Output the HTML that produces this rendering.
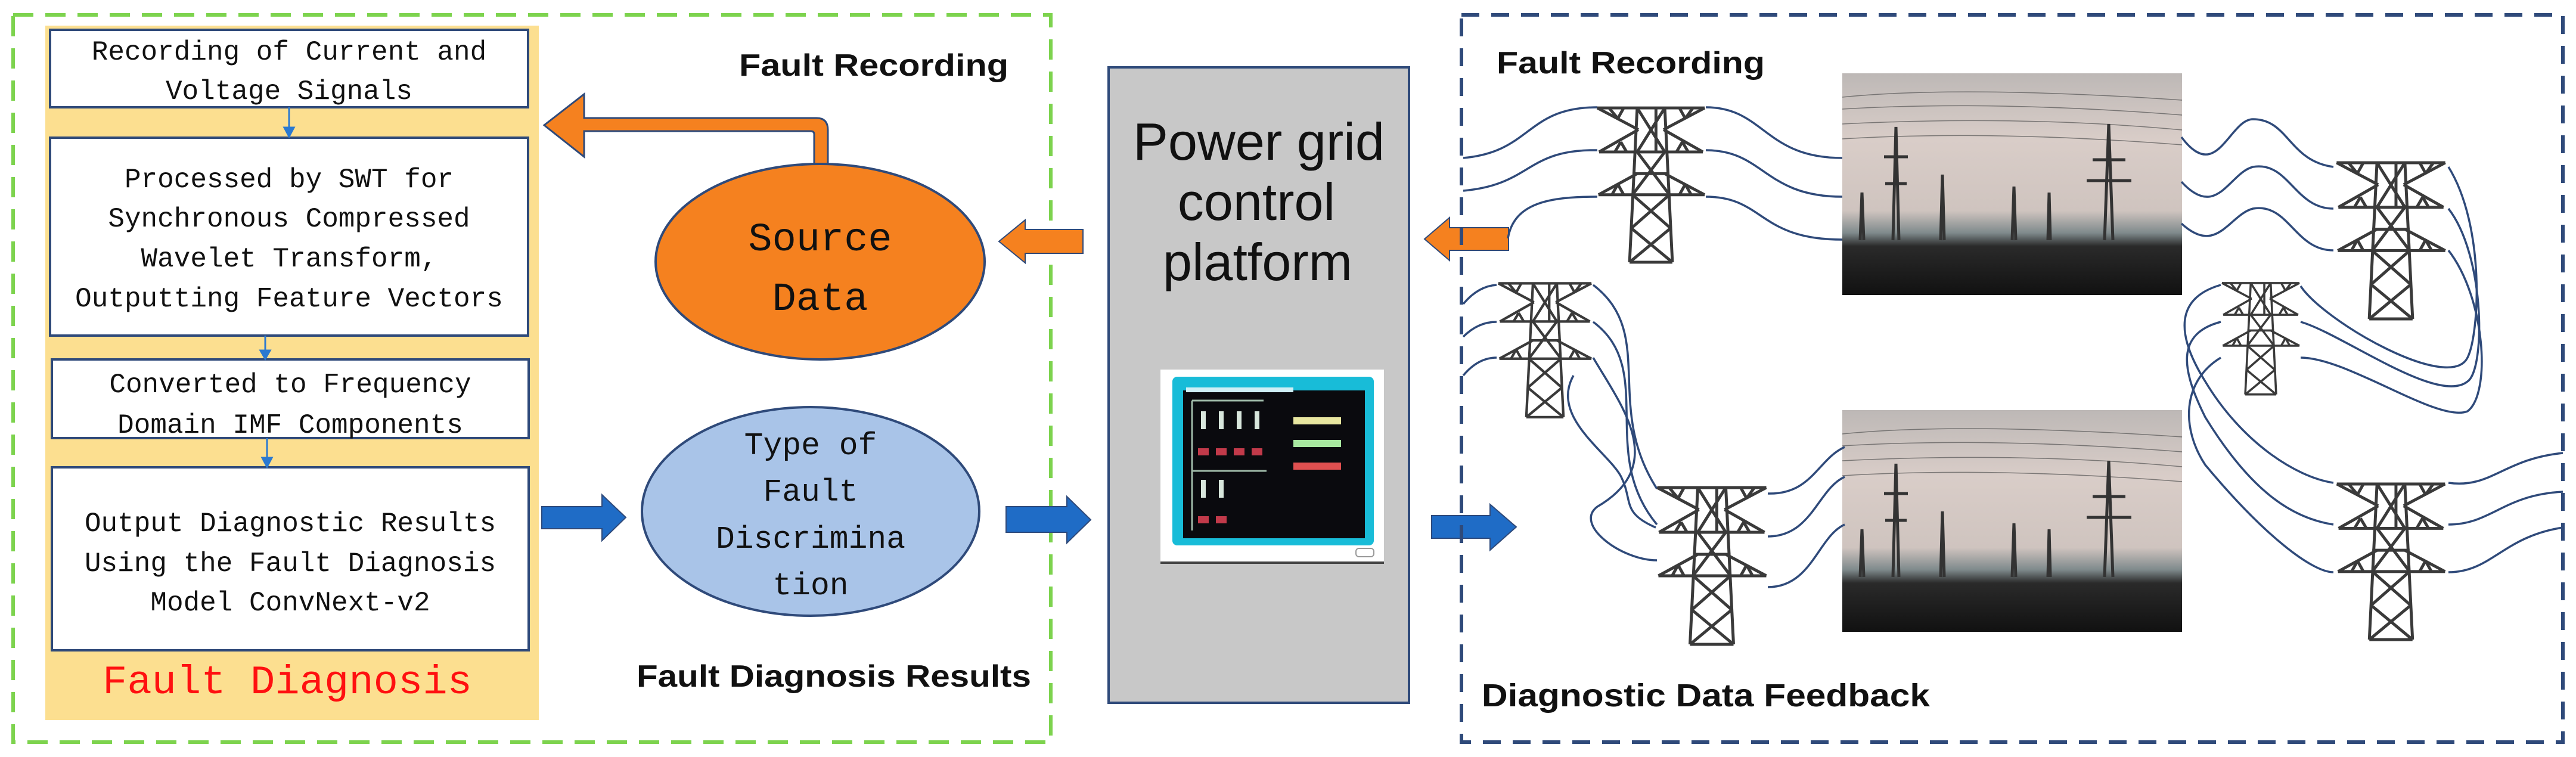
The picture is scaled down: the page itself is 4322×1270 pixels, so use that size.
<!DOCTYPE html>
<html><head><meta charset="utf-8"><style>
html,body{margin:0;padding:0;background:#fff;}
svg{display:block;}
.mono{font-family:"Liberation Mono",monospace;}
.lab{font-family:"Liberation Sans",sans-serif;font-weight:bold;}
</style></head><body>
<svg width="4322" height="1270" viewBox="0 0 4322 1270" xmlns="http://www.w3.org/2000/svg">
<defs>
<symbol id="tw" viewBox="-4 -4 191 273">
<g fill="none" stroke="#3a3a3a" stroke-width="5" stroke-linejoin="round">
<line x1="0" y1="0" x2="183" y2="0"/>
<line x1="0" y1="0" x2="70" y2="37"/><line x1="183" y1="0" x2="113" y2="37"/>
<line x1="70" y1="37" x2="3" y2="75"/><line x1="113" y1="37" x2="180" y2="75"/>
<line x1="3" y1="75" x2="180" y2="75"/>
<line x1="68" y1="0" x2="55" y2="263"/><line x1="115" y1="0" x2="128" y2="263"/>
<line x1="100" y1="0" x2="100" y2="75"/>
<line x1="68" y1="112" x2="2" y2="148"/><line x1="115" y1="112" x2="183" y2="148"/>
<line x1="2" y1="148" x2="183" y2="148"/><line x1="60" y1="112" x2="123" y2="112"/>
<line x1="55" y1="263" x2="128" y2="263"/>
<line x1="68" y1="0" x2="115" y2="75"/><line x1="115" y1="0" x2="68" y2="75"/>
<line x1="68" y1="75" x2="123" y2="148"/><line x1="115" y1="75" x2="60" y2="148"/>
<line x1="60" y1="148" x2="125" y2="205"/><line x1="123" y1="148" x2="58" y2="205"/>
<line x1="58" y1="205" x2="128" y2="263"/><line x1="125" y1="205" x2="55" y2="263"/>
<line x1="20" y1="0" x2="35" y2="18"/><line x1="45" y1="0" x2="35" y2="18"/><line x1="140" y1="0" x2="150" y2="18"/><line x1="163" y1="0" x2="150" y2="18"/>
<line x1="30" y1="75" x2="40" y2="58"/><line x1="50" y1="75" x2="40" y2="58"/><line x1="135" y1="75" x2="145" y2="58"/><line x1="155" y1="75" x2="145" y2="58"/>
<line x1="25" y1="148" x2="35" y2="130"/><line x1="45" y1="148" x2="35" y2="130"/><line x1="140" y1="148" x2="150" y2="130"/><line x1="160" y1="148" x2="150" y2="130"/>
</g>
</symbol>
<linearGradient id="ph" x1="0" y1="0" x2="0" y2="1">
<stop offset="0" stop-color="#bdb8b6"/><stop offset="0.3" stop-color="#d9cdc8"/><stop offset="0.62" stop-color="#cfc4bf"/><stop offset="0.72" stop-color="#7f8a8c"/><stop offset="0.78" stop-color="#2a2a2a"/><stop offset="1" stop-color="#111"/>
</linearGradient>
<symbol id="photo" viewBox="0 0 570 372">
<rect width="570" height="372" fill="url(#ph)"/>
<g stroke="#555" stroke-width="1.5" fill="none" opacity="0.7">
<path d="M0 40 Q200 20 570 45"/><path d="M0 60 Q250 45 570 70"/><path d="M0 85 Q300 70 570 95"/><path d="M0 110 Q250 95 570 120"/>
</g>
<g stroke="#333" stroke-width="5" fill="none">
<path d="M85 280 L90 90 L95 280"/><line x1="70" y1="140" x2="110" y2="140"/><line x1="72" y1="185" x2="108" y2="185"/>
<path d="M440 280 L447 85 L454 280"/><line x1="410" y1="180" x2="485" y2="180"/><line x1="420" y1="145" x2="475" y2="145"/>
<path d="M165 280 L168 170 L171 280"/><path d="M285 280 L288 190 L291 280"/><path d="M345 280 L347 200 L349 280"/><path d="M30 280 L33 200 L36 280"/>
</g>
</symbol>
</defs>

<!-- Left green dashed region -->
<rect x="22" y="25" width="1741" height="1220" fill="none" stroke="#7DD34E" stroke-width="6" stroke-dasharray="34 20"/>
<rect x="76" y="43" width="828" height="1165" fill="#FCDF90"/>
<g fill="#fff" stroke="#2F4A7A" stroke-width="4">
<rect x="84" y="50" width="802" height="130"/>
<rect x="84" y="231" width="802" height="332"/>
<rect x="87" y="603" width="800" height="132"/>
<rect x="87" y="784" width="800" height="307"/>
</g>
<g stroke="#2B79D0" stroke-width="3" fill="#2B79D0">
<line x1="485" y1="180" x2="485" y2="218"/><path d="M477 214 L493 214 L485 229Z"/>
<line x1="445" y1="563" x2="445" y2="590"/><path d="M437 588 L453 588 L445 602Z"/>
<line x1="448" y1="735" x2="448" y2="770"/><path d="M440 768 L456 768 L448 783Z"/>
</g>
<g class="mono" font-size="46" fill="#111" text-anchor="middle">
<text x="485" y="100">Recording of Current and</text>
<text x="485" y="166">Voltage Signals</text>
<text x="485" y="314">Processed by SWT for</text>
<text x="485" y="380">Synchronous Compressed</text>
<text x="485" y="447">Wavelet Transform,</text>
<text x="485" y="514">Outputting Feature Vectors</text>
<text x="487" y="658">Converted to Frequency</text>
<text x="487" y="726">Domain IMF Components</text>
<text x="487" y="891">Output Diagnostic Results</text>
<text x="487" y="958">Using the Fault Diagnosis</text>
<text x="487" y="1024">Model ConvNext-v2</text>
</g>
<text class="mono" x="482" y="1163" font-size="68" fill="#FF1010" text-anchor="middle" textLength="620" lengthAdjust="spacingAndGlyphs">Fault Diagnosis</text>

<text class="lab" x="1240" y="127" font-size="52" fill="#111" textLength="452" lengthAdjust="spacingAndGlyphs">Fault Recording</text>
<text class="lab" x="1068" y="1152" font-size="52" fill="#111" textLength="662" lengthAdjust="spacingAndGlyphs">Fault Diagnosis Results</text>

<!-- Orange bent arrow -->
<path d="M1366 277 L1366 225 Q1366 220 1360 220 L980 220 L980 263 L913 210 L980 158 L980 198 L1370 198 Q1389 198 1389 218 L1389 277Z" fill="#F5811F" stroke="#2F4A7A" stroke-width="3"/>
<ellipse cx="1376" cy="439" rx="276" ry="164" fill="#F5811F" stroke="#2F4A7A" stroke-width="4"/>
<g class="mono" font-size="67" fill="#111" text-anchor="middle"><text x="1376" y="420">Source</text><text x="1376" y="520">Data</text></g>

<ellipse cx="1360" cy="858" rx="283" ry="175" fill="#A9C4E8" stroke="#2F4A7A" stroke-width="4"/>
<g class="mono" font-size="53" fill="#111" text-anchor="middle"><text x="1360" y="762">Type of</text><text x="1360" y="840">Fault</text><text x="1360" y="919">Discrimina</text><text x="1360" y="997">tion</text></g>

<!-- Blue arrows -->
<path d="M909 850 L1010 850 L1010 830 L1050 868 L1010 907 L1010 887 L909 887Z" fill="#1F6CC6" stroke="#2F4A7A" stroke-width="2"/>
<path d="M1688 850 L1790 850 L1790 833 L1830 872 L1790 911 L1790 893 L1688 893Z" fill="#1F6CC6" stroke="#2F4A7A" stroke-width="2"/>
<path d="M2402 865 L2500 865 L2500 846 L2544 884 L2500 923 L2500 903 L2402 903Z" fill="#1F6CC6" stroke="#2F4A7A" stroke-width="2"/>
<!-- Orange small arrows -->
<path d="M1817 385 L1720 385 L1720 369 L1676 405 L1720 441 L1720 425 L1817 425Z" fill="#F5811F" stroke="#2F4A7A" stroke-width="2"/>
<path d="M2531 382 L2432 382 L2432 365 L2390 401 L2432 437 L2432 420 L2531 420Z" fill="#F5811F" stroke="#2F4A7A" stroke-width="2"/>

<!-- Gray platform -->
<rect x="1860" y="113" width="504" height="1066" fill="#C8C8C8" stroke="#2F4A7A" stroke-width="4"/>
<g class="lab" style="font-weight:normal" font-size="88" fill="#111" text-anchor="middle">
<text x="2112" y="268" textLength="422" lengthAdjust="spacingAndGlyphs">Power grid</text>
<text x="2108" y="369">control</text>
<text x="2110" y="470">platform</text>
</g>
<rect x="1947" y="620" width="375" height="324" fill="#fff"/>
<line x1="1947" y1="944" x2="2322" y2="944" stroke="#444" stroke-width="4"/>
<rect x="1967" y="632" width="338" height="283" rx="8" fill="#18BCD8"/>
<rect x="1985" y="655" width="305" height="248" fill="#0a0a0e"/>
<rect x="1990" y="650" width="180" height="8" fill="#cfeff5"/>
<g stroke="#9fb9a8" stroke-width="3"><line x1="2000" y1="672" x2="2120" y2="672"/><line x1="2000" y1="790" x2="2125" y2="790"/><line x1="2000" y1="672" x2="2000" y2="890"/></g>
<g fill="#d8e6dc"><rect x="2015" y="690" width="8" height="30"/><rect x="2045" y="690" width="8" height="30"/><rect x="2075" y="690" width="8" height="30"/><rect x="2105" y="690" width="8" height="30"/><rect x="2015" y="805" width="8" height="30"/><rect x="2045" y="805" width="8" height="30"/></g>
<g fill="#c23a4a"><rect x="2010" y="752" width="18" height="12"/><rect x="2040" y="752" width="18" height="12"/><rect x="2070" y="752" width="18" height="12"/><rect x="2100" y="752" width="18" height="12"/><rect x="2010" y="866" width="18" height="12"/><rect x="2040" y="866" width="18" height="12"/></g>
<rect x="2170" y="700" width="80" height="12" fill="#e8e6a0"/><rect x="2170" y="738" width="80" height="12" fill="#a8e8a0"/><rect x="2170" y="776" width="80" height="12" fill="#e05050"/>
<rect x="2275" y="920" width="30" height="14" rx="5" fill="none" stroke="#999" stroke-width="2"/>

<!-- Right navy dashed region -->
<rect x="2452" y="25" width="1848" height="1220" fill="none" stroke="#2F4A7A" stroke-width="6" stroke-dasharray="30 20"/>
<text class="lab" x="2511" y="123" font-size="52" fill="#111" textLength="450" lengthAdjust="spacingAndGlyphs">Fault Recording</text>
<text class="lab" x="2486" y="1185" font-size="54" fill="#111" textLength="752" lengthAdjust="spacingAndGlyphs">Diagnostic Data Feedback</text>

<use href="#photo" x="3091" y="123" width="570" height="372" preserveAspectRatio="none"/>
<use href="#photo" x="3091" y="687" width="570" height="374" preserveAspectRatio="none"/>

<!-- wires -->
<g fill="none" stroke="#2F4A7A" stroke-width="3.5">
<path d="M2455 265 C2570 255 2560 180 2680 180"/><path d="M2862 180 C2960 180 2960 265 3091 265"/>
<path d="M2455 320 C2570 310 2560 250 2680 252"/><path d="M2862 252 C2960 252 2960 330 3091 330"/>
<path d="M2530 400 C2540 340 2600 330 2680 330"/><path d="M2862 330 C2960 330 2950 402 3091 402"/>
<path d="M2455 510 Q2480 480 2511 478"/><path d="M2455 565 Q2480 540 2511 540"/><path d="M2455 630 Q2480 600 2511 600"/>
<path d="M2673 478 C2780 560 2690 680 2780 820"/><path d="M2673 540 C2780 620 2680 760 2780 880"/><path d="M2673 600 C2720 680 2800 780 2680 850 C2640 880 2720 940 2780 940"/>
<path d="M2640 630 C2600 700 2700 760 2720 800 C2740 840 2720 860 2778 885"/>
<path d="M2966 828 C3040 830 3050 770 3095 750"/><path d="M2966 900 C3040 900 3050 820 3095 800"/><path d="M2966 985 C3040 985 3050 900 3095 880"/>
<path d="M3660 230 C3720 310 3740 200 3780 200 C3840 200 3840 270 3915 280"/><path d="M3660 305 C3720 370 3740 290 3780 280 C3840 270 3850 350 3915 350"/><path d="M3660 375 C3720 430 3740 360 3780 350 C3840 340 3850 420 3915 420"/>
<path d="M4108 280 C4170 380 4160 560 4140 600 C4110 660 3900 540 3860 480"/><path d="M4108 350 C4170 430 4170 620 4140 640 C4090 680 3930 560 3860 540"/><path d="M4108 420 C4170 500 4180 660 4140 690 C4090 710 3940 600 3860 600"/>
<path d="M3726 478 C3650 500 3650 560 3700 640 C3760 740 3850 800 3915 810"/><path d="M3726 540 C3650 560 3660 620 3700 700 C3780 830 3850 870 3915 880"/><path d="M3726 600 C3660 640 3660 720 3700 780 C3800 900 3880 960 3915 960"/>
<path d="M4108 810 C4180 820 4200 770 4300 760"/><path d="M4108 880 C4180 880 4200 830 4300 825"/><path d="M4108 960 C4180 960 4200 900 4300 885"/>
</g>

<use href="#tw" x="2676" y="175" width="188" height="273"/>
<use href="#tw" x="2509" y="472" width="166" height="233"/>
<use href="#tw" x="2776" y="814" width="192" height="273"/>
<use href="#tw" x="3913" y="269" width="197" height="272"/>
<use href="#tw" x="3724" y="472" width="138" height="194"/>
<use href="#tw" x="3913" y="808" width="197" height="271"/>
</svg>
</body></html>
